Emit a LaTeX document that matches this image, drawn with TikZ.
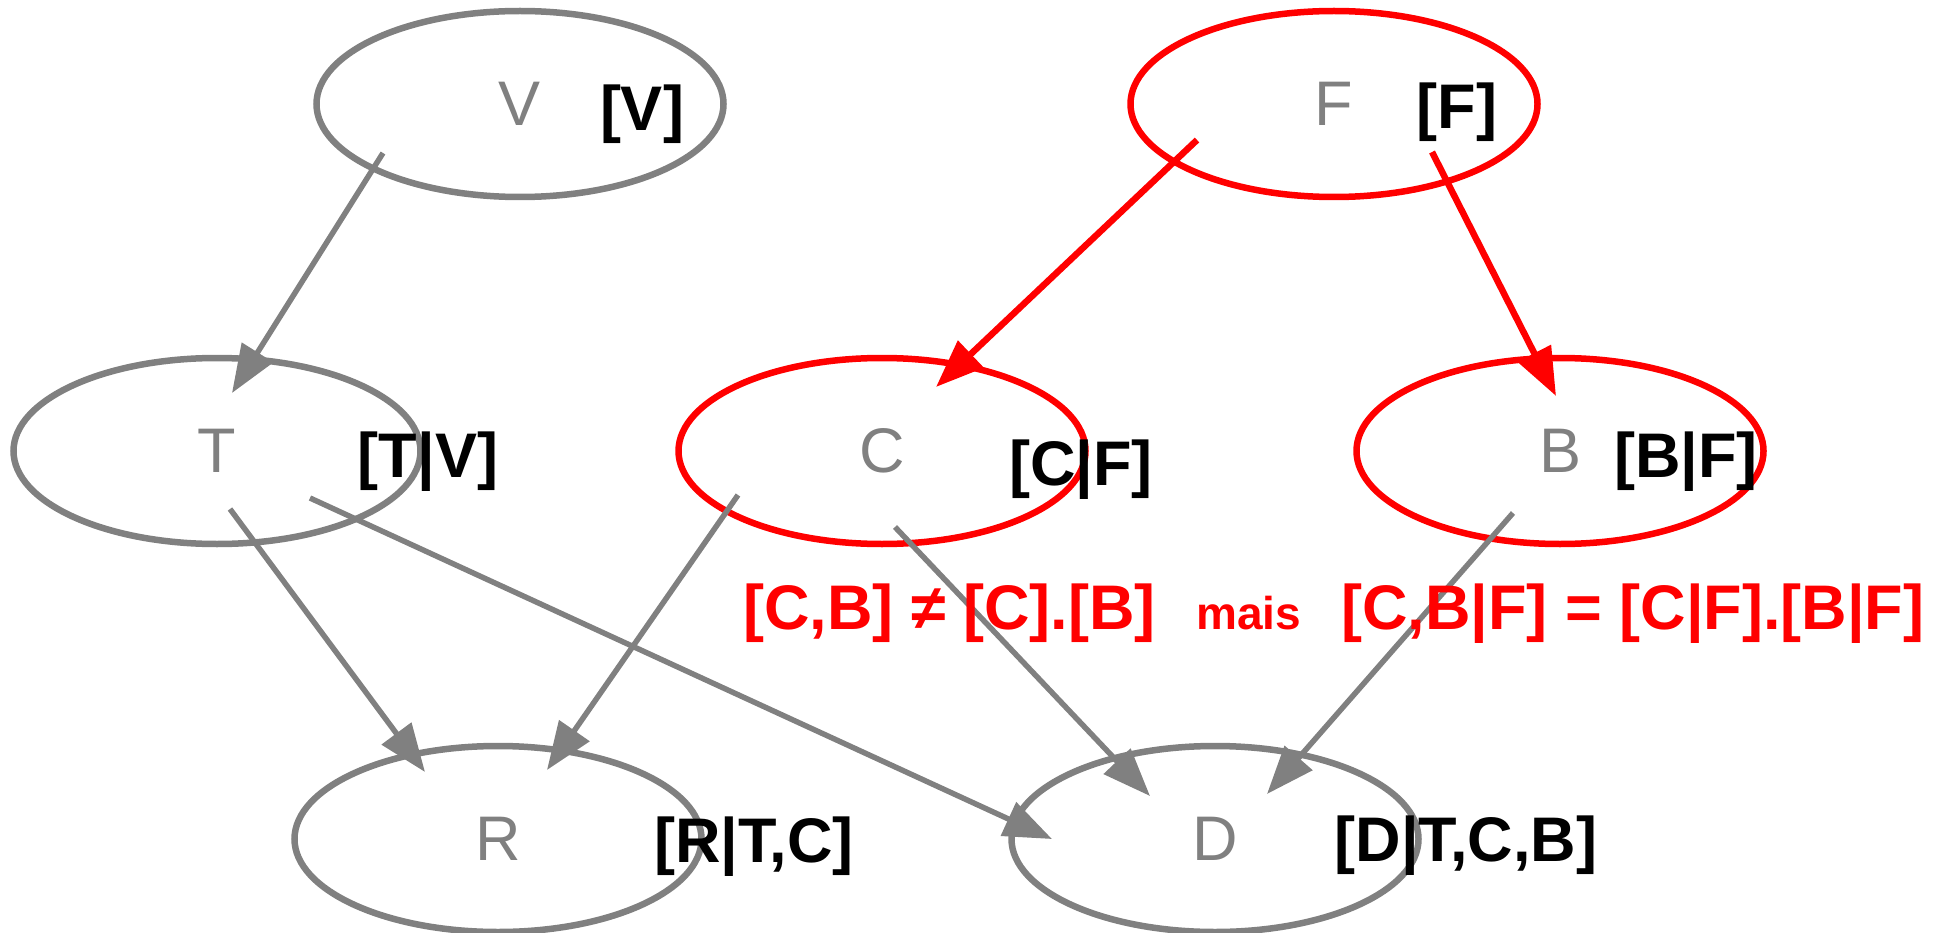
\documentclass[tikz,border=0pt]{standalone}
\usepackage{fontspec}
\setmainfont{Liberation Sans}
\usetikzlibrary{shapes.geometric,arrows.meta,calc}
\definecolor{nodegray}{RGB}{128,128,128}
\definecolor{hlred}{RGB}{255,0,0}

\begin{document}
\begin{tikzpicture}[x=1pt,y=-1pt,
  var/.style={ellipse, draw=nodegray, line width=6.5pt, minimum width=407pt,
    minimum height=186pt, inner sep=0pt, text=nodegray,
    font=\fontsize{63}{70}\selectfont},
  hot/.style={draw=hlred},
  prob/.style={anchor=base, inner sep=0pt, text=black,
    font=\fontsize{63}{70}\selectfont\bfseries},
  link/.style={draw=nodegray, line width=5.5pt,
    -{Triangle[length=48pt,width=36pt]}},
  hotlink/.style={link, draw=hlred, line width=6.5pt},
  eq/.style={anchor=base west, inner sep=0pt, text=hlred,
    font=\fontsize{63}{70}\selectfont\bfseries},
  eqsmall/.style={eq, font=\fontsize{46}{52}\selectfont\bfseries}
]
\useasboundingbox (0,0) rectangle (1948,933);

% variables of the network
\node[var]      (V) at (520,104) {V};
\node[var, hot] (F) at (1334,104) {F};
\node[var]      (T) at (217,451) {T};
\node[var, hot] (C) at (882,451) {C};
\node[var, hot] (B) at (1560,451) {B};
\node[var]      (R) at (498,839) {R};
\node[var]      (D) at (1215,839) {D};

% conditional distributions
\node[prob] (pV) at (642,131) {[V]};
\node[prob] (pF) at (1457,129) {[F]};
\node[prob] (pT) at (428,477) {[T|V]};
\node[prob] (pC) at (1081,485) {[C|F]};
\node[prob] (pB) at (1686,477) {[B|F]};
\node[prob] (pR) at (754,862) {[R|T,C]};
\node[prob] (pD) at (1466,861) {[D|T,C,B]};

% dependencies
\draw[link]    ($(V)+(-137,49)$) -- ($(T)+(15,-58)$);
\draw[hotlink] ($(F)+(-137,36)$) -- ($(C)+(54,-64)$);
\draw[hotlink] ($(F)+(98,48)$)   -- ($(B)+(-4,-55)$);
\draw[link]    ($(T)+(13,58)$)   -- ($(R)+(-73,-67)$);
\draw[link]    ($(T)+(93,47)$)   -- ($(D)+(-163,0)$);
\draw[link]    ($(C)+(-144,44)$) -- ($(R)+(49,-69)$);
\draw[link]    ($(C)+(13,76)$)   -- ($(D)+(-65,-43)$);
\draw[link]    ($(B)+(-47,62)$)  -- ($(D)+(52,-45)$);

% conditional independence statement
\node[eq]      (eqL) at (743,629)  {[C,B] ≠ [C].[B]};
\node[eqsmall] (eqM) at (1196,629) {mais};
\node[eq]      (eqR) at (1341,629) {[C,B|F] = [C|F].[B|F]};
\end{tikzpicture}
\end{document}
